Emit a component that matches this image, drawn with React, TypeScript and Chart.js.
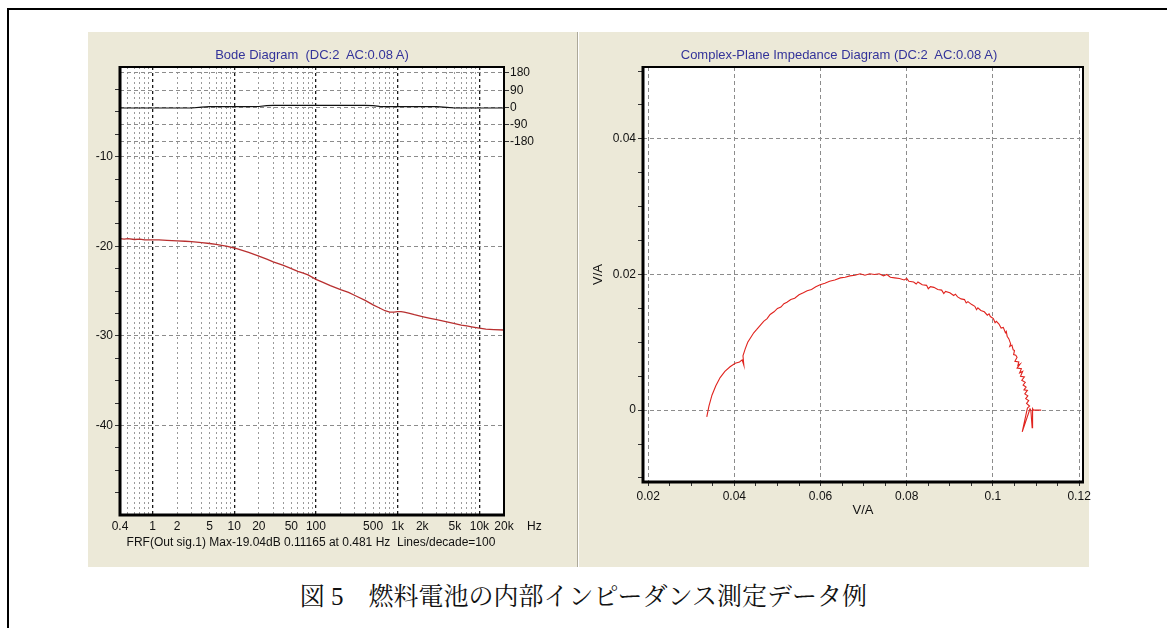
import React, { useEffect, useRef } from "react";
import { Chart, registerables } from "chart.js";

Chart.register(...registerables);

const FONT = "'Liberation Sans', 'DejaVu Sans', Arial, sans-serif";

// ---------- Bode diagram data ----------
const bodeFreqHz = [
  0.4, 0.45, 0.5, 0.6, 0.7, 0.8, 1, 1.2, 1.5, 2, 2.5, 3, 4, 5, 6, 7, 8, 10, 12, 15,
  20, 25, 30, 40, 50, 60, 70, 80, 100, 120, 150, 200, 250, 300, 400, 500, 600, 700,
  800, 900, 1000, 1100, 1200, 1400, 1600, 2000, 2500, 3000, 4000, 5000, 6000, 7000,
  8000, 10000, 12000, 15000, 20000,
];
const bodeMagDb = [
  -19.15, -19.2, -19.15, -19.25, -19.2, -19.3, -19.3, -19.3, -19.35, -19.4, -19.45,
  -19.5, -19.6, -19.7, -19.8, -19.9, -20.0, -20.2, -20.4, -20.7, -21.1, -21.45,
  -21.75, -22.15, -22.5, -22.8, -23.0, -23.2, -23.7, -24.0, -24.4, -24.85, -25.15,
  -25.5, -26.05, -26.55, -26.9, -27.2, -27.35, -27.35, -27.3, -27.3, -27.35, -27.5,
  -27.65, -27.85, -28.05, -28.2, -28.45, -28.65, -28.8, -28.9, -29.0, -29.15,
  -29.25, -29.3, -29.35,
];
const bodePhaseDeg = [
  -3, -3, -3, -3, -3, -3, -3, -3, -3, -3, -3, -3, 2, 4, 4, 4, 4, 4, 4, 4, 5, 10, 11,
  11, 11, 11, 11, 11, 11, 11, 11, 11, 11, 11, 11, 10, 6, 4, 4, 4, 4, 4, 4, 4, 4, 4,
  4, 4, 0, -3, -3, -3, -3, -3, -3, -3, -3,
];
const bodeGridHz = [
  0.4, 0.5, 0.6, 0.7, 0.8, 0.9, 1, 2, 3, 4, 5, 6, 7, 8, 9, 10, 20, 30, 40, 50, 60, 70,
  80, 90, 100, 200, 300, 400, 500, 600, 700, 800, 900, 1000, 2000, 3000, 4000, 5000,
  6000, 7000, 8000, 9000, 10000, 20000,
];
const bodeDecadeHz = [1, 10, 100, 1000, 10000];
const bodeLabelHz = [0.4, 1, 2, 5, 10, 20, 50, 100, 500, 1000, 2000, 5000, 10000, 20000];
const bodeLabelText = ["0.4", "1", "2", "5", "10", "20", "50", "100", "500", "1k", "2k", "5k", "10k", "20k"];
const magTickDb = [
  -47.5, -45, -42.5, -40, -37.5, -35, -32.5, -30, -27.5, -25, -22.5, -20, -17.5, -15,
  -12.5, -10, -7.5, -5, -2.5,
];
const magLabelDb = [-10, -20, -30, -40];
const phaseTickDeg = [180, 90, 0, -90, -180];

// ---------- Complex-plane (Nyquist) data ----------
const nyqRe = [
  0.0336, 0.0341, 0.0348, 0.0357, 0.0367, 0.0378, 0.039, 0.0402, 0.0412, 0.0418,
  0.0422, 0.042, 0.0425, 0.0431, 0.0438, 0.0445, 0.0452, 0.046, 0.0468, 0.0476,
  0.0483, 0.0492, 0.05, 0.0508, 0.0515, 0.0522, 0.0531, 0.054, 0.055, 0.056,
  0.0569, 0.0579, 0.0589, 0.0599, 0.061, 0.0621, 0.0633, 0.0646, 0.0657, 0.0668,
  0.068, 0.0692, 0.0703, 0.0714, 0.0725, 0.0736, 0.0746, 0.0754, 0.0762, 0.0772,
  0.0783,
  0.0794, 0.08, 0.0805, 0.0816, 0.0822, 0.0826, 0.0836, 0.0846, 0.085, 0.0855,
  0.0863, 0.0872, 0.0881, 0.0886, 0.089, 0.09, 0.0909, 0.0913, 0.0918, 0.0926,
  0.0934, 0.0938, 0.0942, 0.095, 0.0958, 0.0962, 0.0965, 0.0972, 0.098, 0.0987,
  0.0991, 0.0994, 0.1001, 0.1005, 0.1008, 0.1014, 0.1019, 0.1024, 0.1029, 0.1031,
  0.1033, 0.1037, 0.1041, 0.1039, 0.1044, 0.1047, 0.105, 0.1048, 0.1053, 0.1056,
  0.1051, 0.106, 0.1058, 0.1063, 0.1056, 0.1066, 0.1062, 0.1069, 0.1064, 0.1073,
  0.1067, 0.1075, 0.107, 0.1077, 0.1072, 0.108, 0.1074, 0.1081, 0.1076, 0.1083,
  0.1078, 0.1085, 0.108, 0.1068, 0.1086, 0.1088, 0.1091, 0.1092, 0.1094, 0.1112,
];
const nyqIm = [
  -0.001, 0.0006, 0.0022, 0.0036, 0.0048, 0.0057, 0.0064, 0.0069, 0.0071, 0.0074,
  0.0066, 0.008, 0.009, 0.01, 0.0107, 0.0114, 0.0119, 0.0125, 0.0131, 0.0135,
  0.0141, 0.0145, 0.015, 0.0152, 0.0157, 0.0159, 0.0163, 0.0165, 0.017, 0.0173,
  0.0176, 0.0178, 0.0182, 0.0185, 0.0187, 0.019, 0.0192, 0.0195, 0.0196, 0.0198,
  0.0199, 0.0201, 0.0199, 0.0201, 0.02, 0.0201, 0.0198, 0.02, 0.0196, 0.0195,
  0.0194,
  0.0192, 0.0194, 0.019, 0.0189, 0.0186, 0.0189, 0.0185, 0.0184, 0.0179, 0.0182,
  0.0181, 0.0178, 0.0177, 0.0172, 0.0175, 0.0173, 0.0169, 0.0171, 0.0167, 0.0164,
  0.0163, 0.0158, 0.016, 0.0156, 0.0153, 0.0148, 0.0151, 0.0147, 0.0145, 0.014,
  0.0142, 0.0138, 0.0135, 0.0129, 0.0131, 0.0127, 0.0121, 0.0122, 0.0114, 0.0116,
  0.0109, 0.0105, 0.0098, 0.0094, 0.0096, 0.0089, 0.0088, 0.0082, 0.0081, 0.0078,
  0.0072, 0.0071, 0.0066, 0.0068, 0.0062, 0.0061, 0.0055, 0.0057, 0.005, 0.0049,
  0.0044, 0.0041, 0.0037, 0.0034, 0.003, 0.0029, 0.0024, 0.0021, 0.0017, 0.0014,
  0.001, 0.0006, 0.0003, -0.0032, 0.0002, 0.0, -0.0026, 0.0002, 0.0, 0.0,
];
const nyqXTick = [
  0.02, 0.025, 0.03, 0.035, 0.04, 0.045, 0.05, 0.055, 0.06, 0.065, 0.07, 0.075, 0.08,
  0.085, 0.09, 0.095, 0.1, 0.105, 0.11, 0.115, 0.12,
];
const nyqXLabel = [0.02, 0.04, 0.06, 0.08, 0.1, 0.12];
const nyqYTick = [-0.01, -0.005, 0, 0.005, 0.01, 0.015, 0.02, 0.025, 0.03, 0.035, 0.04, 0.045, 0.05];
const nyqYLabel = [0, 0.02, 0.04];

const near = (a: number, b: number) => Math.abs(a - b) <= 1e-9 * Math.max(1, Math.abs(a));
const isIn = (arr: number[], v: number) => arr.some((a) => near(a, v));

const plotFrame = {
  id: "plotFrame",
  beforeDraw(chart: any) {
    const { ctx, chartArea: a } = chart;
    ctx.save();
    ctx.fillStyle = "#ffffff";
    ctx.fillRect(a.left, a.top, a.right - a.left, a.bottom - a.top);
    ctx.restore();
  },
  afterDraw(chart: any) {
    const { ctx, chartArea: a } = chart;
    ctx.save();
    ctx.strokeStyle = "#000";
    ctx.lineWidth = 2;
    ctx.strokeRect(a.left, a.top, a.right - a.left, a.bottom - a.top);
    ctx.lineWidth = 3;
    ctx.beginPath();
    ctx.moveTo(a.left, a.top - 1);
    ctx.lineTo(a.left, a.bottom);
    ctx.lineTo(a.right + 1, a.bottom);
    ctx.stroke();
    ctx.restore();
  },
};

const tickFont = { family: FONT, size: 12 };

function BodeChart() {
  const ref = useRef<HTMLCanvasElement>(null);
  useEffect(() => {
    const isDecade = (c: any) => !!(c.tick && isIn(bodeDecadeHz, c.tick.value));
    const chart = new Chart(ref.current as HTMLCanvasElement, {
      type: "scatter",
      data: {
        datasets: [
          {
            label: "Gain",
            data: bodeFreqHz.map((f, i) => ({ x: f, y: bodeMagDb[i] })),
            yAxisID: "y",
            borderColor: "#B83030",
            borderWidth: 1.3,
            showLine: true,
            pointRadius: 0,
          },
          {
            label: "Phase",
            data: bodeFreqHz.map((f, i) => ({ x: f, y: bodePhaseDeg[i] })),
            yAxisID: "y2",
            borderColor: "#111",
            borderWidth: 1.2,
            showLine: true,
            pointRadius: 0,
          },
        ],
      },
      options: {
        animation: false,
        responsive: false,
        maintainAspectRatio: false,
        events: [],
        layout: { padding: { top: 35, left: 0, right: 0, bottom: 0 } },
        plugins: { legend: { display: false }, tooltip: { enabled: false } },
        scales: {
          x: {
            type: "logarithmic",
            position: "bottom",
            min: 0.4,
            max: 20000,
            afterBuildTicks: (s: any) => {
              s.ticks = bodeGridHz.map((v) => ({ value: v }));
            },
            afterFit: (s: any) => {
              s.height = 52;
            },
            ticks: {
              autoSkip: false,
              maxRotation: 0,
              minRotation: 0,
              padding: 4,
              color: "#111",
              font: tickFont,
              callback: (v: any) => {
                const i = bodeLabelHz.findIndex((l) => near(l, Number(v)));
                return i >= 0 ? bodeLabelText[i] : "";
              },
            },
            grid: {
              drawTicks: false,
              color: (c: any) => (isDecade(c) ? "#1a1a1a" : "#9a9a9a"),
              lineWidth: (c: any) => (isDecade(c) ? 1.3 : 1),
            },
            border: {
              display: false,
              dash: (c: any) => (isDecade(c) ? [3, 3] : [2, 3]),
            },
          },
          y: {
            type: "linear",
            position: "left",
            min: -50,
            max: 0,
            afterBuildTicks: (s: any) => {
              s.ticks = magTickDb.map((v) => ({ value: v }));
            },
            afterFit: (s: any) => {
              s.width = 32;
            },
            ticks: {
              autoSkip: false,
              padding: 2,
              color: "#111",
              font: tickFont,
              callback: (v: any) => (isIn(magLabelDb, Number(v)) ? String(v) : ""),
            },
            grid: {
              color: (c: any) => (c.tick && isIn(magLabelDb, c.tick.value) ? "#8c8c8c" : "rgba(0,0,0,0)"),
              tickColor: "#333",
              tickLength: 5,
            },
            border: { display: false, dash: [4, 3] },
          },
          y2: {
            type: "linear",
            position: "right",
            min: -2126,
            max: 211,
            afterBuildTicks: (s: any) => {
              s.ticks = phaseTickDeg.map((v) => ({ value: v }));
            },
            afterFit: (s: any) => {
              s.width = 74;
            },
            ticks: {
              autoSkip: false,
              padding: 1,
              color: "#111",
              font: tickFont,
              callback: (v: any) => String(v),
            },
            grid: { color: "#8c8c8c", tickColor: "#333", tickLength: 5 },
            border: { display: false, dash: [4, 3] },
          },
        },
      } as any,
      plugins: [plotFrame],
    });
    return () => chart.destroy();
  }, []);
  return (
    <canvas
      ref={ref}
      width={490}
      height={535}
      style={{ position: "absolute", left: 88, top: 32, width: 490, height: 535 }}
    />
  );
}

function NyquistChart() {
  const ref = useRef<HTMLCanvasElement>(null);
  useEffect(() => {
    const chart = new Chart(ref.current as HTMLCanvasElement, {
      type: "scatter",
      data: {
        datasets: [
          {
            label: "Z",
            data: nyqRe.map((x, i) => ({ x, y: nyqIm[i] })),
            borderColor: "#E0231E",
            borderWidth: 1.1,
            showLine: true,
            pointRadius: 0,
          },
        ],
      },
      options: {
        animation: false,
        responsive: false,
        maintainAspectRatio: false,
        events: [],
        layout: { padding: { top: 35, left: 0, right: 26, bottom: 0 } },
        plugins: { legend: { display: false }, tooltip: { enabled: false } },
        scales: {
          x: {
            type: "linear",
            position: "bottom",
            min: 0.0188,
            max: 0.1209,
            afterBuildTicks: (s: any) => {
              s.ticks = nyqXTick.map((v) => ({ value: v }));
            },
            afterFit: (s: any) => {
              s.height = 85;
            },
            ticks: {
              autoSkip: false,
              maxRotation: 0,
              minRotation: 0,
              padding: 3,
              color: "#111",
              font: tickFont,
              callback: (v: any) => (isIn(nyqXLabel, Number(v)) ? String(v) : ""),
            },
            grid: {
              color: (c: any) => (c.tick && isIn(nyqXLabel, c.tick.value) ? "#8c8c8c" : "rgba(0,0,0,0)"),
              tickColor: "#333",
              tickLength: 4,
            },
            border: { display: false, dash: [4, 3] },
            title: {
              display: true,
              text: "V/A",
              color: "#111",
              font: { family: FONT, size: 13 },
              padding: { top: 0, bottom: 49 },
            },
          },
          y: {
            type: "linear",
            position: "left",
            min: -0.0106,
            max: 0.0506,
            afterBuildTicks: (s: any) => {
              s.ticks = nyqYTick.map((v) => ({ value: v }));
            },
            afterFit: (s: any) => {
              s.width = 64;
            },
            ticks: {
              autoSkip: false,
              padding: 2,
              color: "#111",
              font: tickFont,
              callback: (v: any) => (isIn(nyqYLabel, Number(v)) ? String(v) : ""),
            },
            grid: {
              color: (c: any) => (c.tick && isIn(nyqYLabel, c.tick.value) ? "#8c8c8c" : "rgba(0,0,0,0)"),
              tickColor: "#333",
              tickLength: 5,
            },
            border: { display: false, dash: [4, 3] },
            title: {
              display: true,
              text: "V/A",
              color: "#111",
              font: { family: FONT, size: 13 },
              padding: { top: 12, bottom: 0 },
            },
          },
        },
      } as any,
      plugins: [plotFrame],
    });
    return () => chart.destroy();
  }, []);
  return (
    <canvas
      ref={ref}
      width={530}
      height={535}
      style={{ position: "absolute", left: 579, top: 32, width: 530, height: 535 }}
    />
  );
}

const abs = (l: number, t: number, extra: React.CSSProperties = {}): React.CSSProperties => ({
  position: "absolute",
  left: l,
  top: t,
  ...extra,
});

export default function App() {
  return (
    <div
      style={{
        position: "fixed",
        left: 0,
        top: 0,
        width: 1167,
        height: 628,
        overflow: "hidden",
        background: "#ffffff",
        fontFamily: FONT,
      }}
    >
      <div
        style={abs(7, 8, {
          width: 1400,
          height: 800,
          borderTop: "2px solid #000",
          borderLeft: "2px solid #000",
        })}
      />
      <div style={abs(88, 32, { width: 489, height: 535, background: "#ECE9D8" })} />
      <div style={abs(577, 32, { width: 1, height: 535, background: "#ACA899" })} />
      <div style={abs(578, 32, { width: 1, height: 535, background: "#FFFFFF" })} />
      <div style={abs(579, 32, { width: 510, height: 535, background: "#ECE9D8" })} />

      <BodeChart />
      <NyquistChart />

      <div
        style={abs(112, 47, {
          width: 400,
          textAlign: "center",
          fontSize: 13,
          lineHeight: "16px",
          color: "#33339A",
          whiteSpace: "pre",
        })}
      >
        {"Bode Diagram  (DC:2  AC:0.08 A)"}
      </div>
      <div
        style={abs(639, 47, {
          width: 400,
          textAlign: "center",
          fontSize: 13,
          lineHeight: "16px",
          color: "#33339A",
          whiteSpace: "pre",
        })}
      >
        {"Complex-Plane Impedance Diagram (DC:2  AC:0.08 A)"}
      </div>
      <div style={abs(527, 518, { fontSize: 12, lineHeight: "16px", color: "#111" })}>Hz</div>
      <div
        style={abs(61, 534, {
          width: 500,
          textAlign: "center",
          fontSize: 12,
          lineHeight: "16px",
          color: "#111",
          whiteSpace: "pre",
        })}
      >
        {"FRF(Out sig.1) Max-19.04dB 0.11165 at 0.481 Hz  Lines/decade=100"}
      </div>
      <div
        style={abs(0, 582, {
          width: 1167,
          textAlign: "center",
          fontSize: 25,
          lineHeight: "30px",
          color: "#111",
          whiteSpace: "pre",
          fontFamily: "'Liberation Serif', 'Noto Serif CJK JP', 'Noto Sans CJK JP', serif",
        })}
      >
        {"図 5\u3000燃料電池の内部インピーダンス測定データ例"}
      </div>
    </div>
  );
}
